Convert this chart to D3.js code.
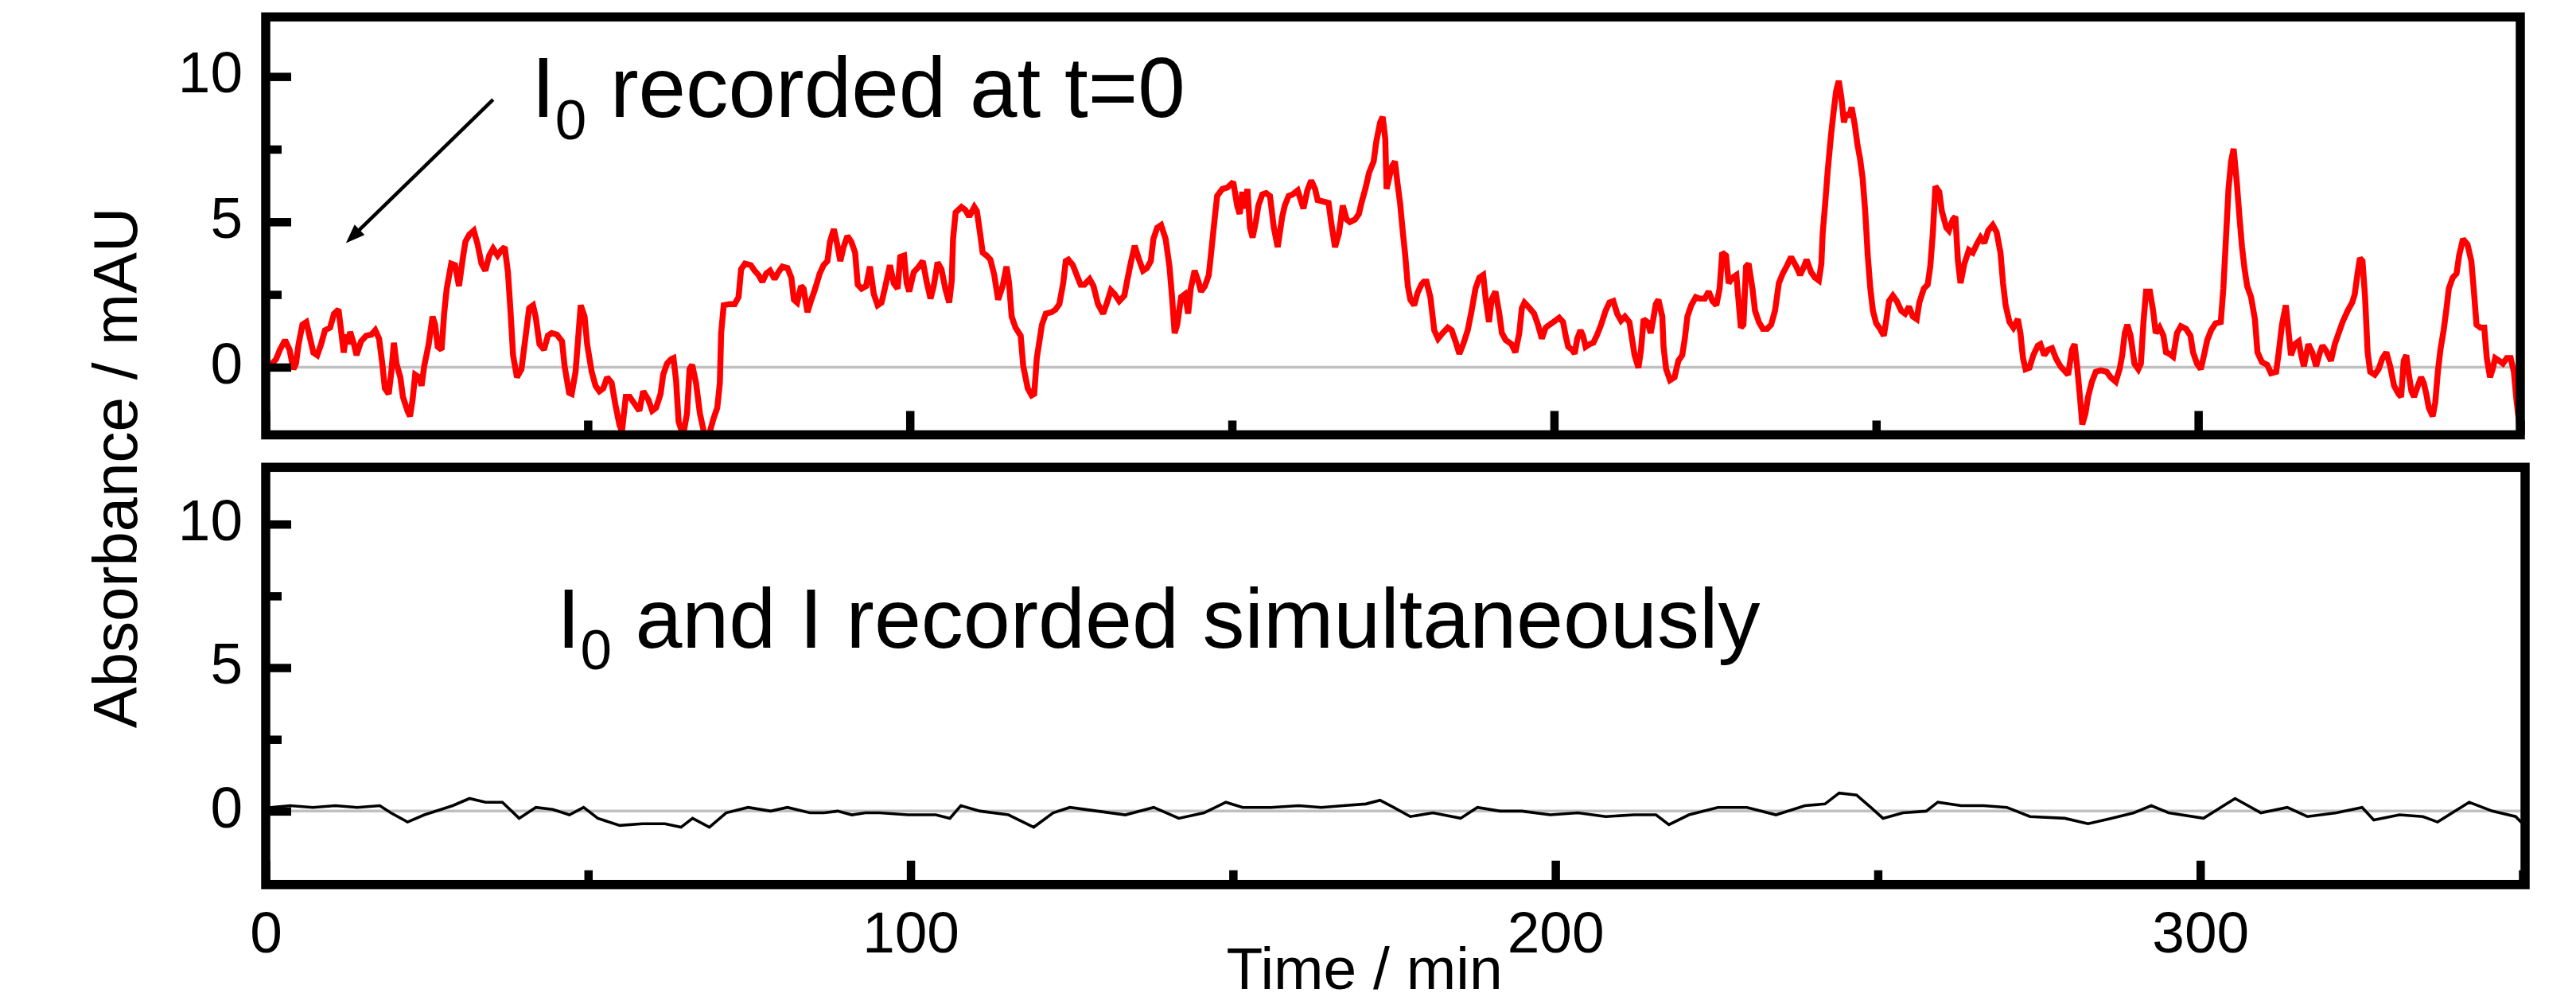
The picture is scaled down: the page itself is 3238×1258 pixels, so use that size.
<!DOCTYPE html>
<html><head><meta charset="utf-8">
<script src="https://cdn.jsdelivr.net/npm/d3@7"></script>
<style>html,body{margin:0;padding:0;background:#fff;} svg{display:block;} text{white-space:pre;}</style>
</head><body>
<svg id="chart" width="3238" height="1258"></svg>
<script>
// ---- data ----
const topTime = [0,0.8,1.6,2.2,3.0,3.7,4.3,4.7,5.1,5.7,6.3,6.9,7.4,8.0,8.6,9.2,10.0,10.6,11.3,11.7,12.1,12.5,12.9,13.1,13.7,14.1,14.8,15.6,16.4,17.0,17.6,18.1,18.5,19.1,19.5,19.9,20.3,20.9,21.3,22.0,22.4,22.8,23.2,23.8,24.2,24.6,25.3,25.9,26.3,26.7,27.3,27.7,28.1,28.8,29.4,30.0,30.6,31.0,31.6,32.3,32.9,33.5,34.1,34.7,35.3,36.0,36.6,37.1,37.6,38.0,38.4,39.0,39.7,40.3,40.9,41.5,41.9,42.5,43.2,43.8,44.4,45.2,46.0,46.4,47.1,47.5,48.1,48.5,48.9,49.5,49.9,50.6,51.2,51.8,52.4,53.0,53.7,54.3,54.9,55.3,55.9,56.5,57.1,58.0,58.6,
59.4,60.0,60.6,61.3,61.7,62.3,62.9,63.3,63.7,64.1,64.8,65.4,65.8,66.2,66.8,67.4,68.1,68.9,69.5,70.1,70.5,70.7,71.1,72.0,72.8,73.4,73.8,74.4,75.3,75.9,76.5,77.1,77.7,78.3,79.0,79.6,80.2,81.0,81.6,82.0,82.5,83.1,83.5,84.1,84.7,85.3,86.0,86.6,87.2,87.6,88.2,88.8,89.2,89.7,90.3,90.9,91.5,91.9,92.5,93.2,93.8,94.4,95.0,95.6,96.2,96.9,97.5,98.1,98.5,99.1,99.5,99.9,100.6,101.2,102.0,102.6,103.2,103.7,104.3,104.9,105.5,106.1,106.5,106.7,107.1,108.0,108.6,109.2,110.0,110.4,110.9,111.3,111.9,112.5,113.1,113.7,114.4,115.0,115.4,115.8,116.4,117.2,117.6,118.3,118.9,119.3,119.7,
120.5,121.1,122.0,122.6,123.2,123.8,124.2,124.6,125.3,125.9,126.5,127.1,127.9,128.5,129.2,130.0,130.6,131.2,131.8,132.5,133.3,133.7,134.3,134.9,135.5,136.2,136.8,137.4,137.8,138.4,139.0,139.7,140.3,140.7,141.1,141.5,142.1,142.7,143.2,143.6,144.2,144.8,145.2,145.8,146.4,146.9,147.3,147.7,148.5,149.3,150.2,150.8,151.2,151.6,152.0,152.4,152.8,153.2,153.7,154.1,154.7,155.3,155.9,156.5,157.1,157.8,158.2,158.8,159.4,160.2,161.1,161.7,162.3,162.9,163.3,164.1,165.0,165.4,166.0,166.6,167.2,167.8,168.3,169.1,169.7,170.1,170.7,171.3,172.0,172.4,173.0,173.4,173.8,174.0,174.4,174.8,175.3,175.7,176.1,176.5,176.9,177.3,177.7,178.3,178.8,179.4,179.8,
180.2,180.8,181.4,182.0,182.7,183.5,184.1,184.7,185.3,185.9,186.6,187.2,187.8,188.4,189.0,189.4,189.9,190.3,190.9,191.5,191.9,192.5,193.4,194.0,194.6,195.0,195.4,196.2,196.9,197.5,198.1,198.7,199.3,199.9,200.8,201.4,201.8,202.2,202.8,203.2,203.6,204.1,204.5,204.9,205.5,206.1,206.7,207.3,208.0,208.6,209.2,209.8,210.4,211.0,211.7,212.1,212.5,213.1,213.5,213.9,214.5,215.0,215.4,215.8,216.2,216.8,217.0,217.4,218.0,218.7,219.3,219.9,220.3,220.7,221.3,222.0,222.6,223.4,224.0,224.6,225.2,225.7,226.1,226.7,227.1,227.7,228.3,229.0,229.4,229.8,230.2,230.8,231.2,231.8,232.4,233.1,233.7,234.3,234.9,235.5,236.2,236.8,
237.6,238.2,238.8,239.2,239.9,240.5,241.1,241.5,241.7,242.1,242.5,243.0,243.4,243.8,244.2,244.6,245.0,245.4,245.8,246.2,246.7,247.1,247.5,247.9,248.3,248.7,249.1,249.5,250.0,250.6,251.2,251.6,252.0,252.6,253.2,253.9,254.5,255.1,255.7,256.3,256.7,257.4,258.0,258.4,258.8,259.2,259.8,260.2,260.9,261.3,261.9,262.3,262.7,263.1,263.7,264.4,265.0,265.6,266.2,266.8,267.4,268.1,268.7,269.3,269.7,270.1,270.7,271.3,272.0,272.4,272.8,273.2,273.8,274.4,275.1,275.5,276.1,276.7,277.3,277.9,278.6,279.2,279.8,280.4,280.8,281.2,281.6,282.0,282.5,282.9,283.5,284.1,284.9,285.8,286.4,287.2,287.8,288.2,288.6,289.0,289.5,290.1,290.7,291.1,291.5,291.9,292.5,293.0,293.4,294.0,294.6,295.0,
295.5,296.1,296.7,297.3,298.1,298.8,299.2,299.8,300.4,301.0,301.4,302.0,302.7,303.5,303.9,304.3,304.7,305.1,305.5,306.0,306.4,306.8,307.2,307.6,308.2,308.8,309.2,309.9,310.7,311.3,312.1,312.5,313.0,313.6,314.0,314.4,315.0,315.6,316.0,316.4,317.1,317.7,318.3,318.9,319.3,319.9,320.6,321.2,321.8,322.4,323.2,323.9,324.3,324.7,325.1,325.5,325.9,326.3,326.7,327.4,328.0,328.6,329.2,329.8,330.4,331.1,331.5,331.9,332.3,332.7,333.1,333.5,334.1,334.6,335.0,335.4,335.8,336.4,336.8,337.2,337.6,338.1,338.5,338.9,339.5,340.1,340.5,341.1,341.8,342.4,342.8,343.2,343.8,344.4,344.8,345.3,345.7,346.1,346.7,347.3,347.9,348.5,349.0,349.4,349.8,350.0];
const topAbs = [0.1,0.08,0.27,0.6,0.93,0.6,-0.07,0.12,0.79,1.46,1.55,0.98,0.5,0.41,0.79,1.27,1.36,1.84,1.98,1.27,0.5,1.12,0.79,1.22,0.79,0.41,0.89,1.08,1.12,1.27,0.98,0.12,-0.73,-0.92,-0.16,0.84,0.12,-0.35,-1.02,-1.5,-1.69,-1.12,-0.26,-0.35,-0.64,0.03,0.79,1.74,1.46,0.7,0.6,1.84,2.7,3.56,3.51,2.79,3.75,4.32,4.56,4.7,4.22,3.56,3.32,3.84,4.08,3.84,4.03,4.13,3.27,1.94,0.41,-0.35,-0.07,0.98,2.03,2.13,1.74,0.79,0.6,1.08,1.17,1.12,0.89,0.03,-0.88,-0.92,-0.16,0.98,2.13,1.74,0.79,-0.16,-0.64,-0.83,-0.73,-0.35,-0.54,-1.31,-1.97,-2.21,-1.02,-1.02,-1.21,-1.5,-0.83,
-1.12,-1.5,-1.4,-0.92,-0.26,0.12,0.27,0.31,-0.45,-1.88,-2.35,-1.59,-0.07,0.08,-0.54,-1.59,-2.31,-2.26,-1.78,-1.4,-0.54,1.17,2.13,2.17,2.17,2.41,3.37,3.56,3.51,3.32,3.17,2.94,3.22,3.32,3.03,3.27,3.46,3.41,3.08,2.32,2.22,2.79,2.7,1.89,2.32,2.7,3.22,3.51,3.65,4.32,4.75,4.13,3.65,4.13,4.51,4.32,3.94,2.84,2.7,2.79,3.46,2.51,2.13,2.22,2.79,3.51,2.89,2.7,3.79,3.84,2.89,2.6,3.27,3.41,3.65,2.94,2.36,2.79,3.6,3.37,2.7,2.22,2.98,4.41,5.32,5.51,5.41,5.18,5.51,5.37,4.6,3.94,3.84,3.7,3.17,2.32,2.79,3.46,2.89,1.74,1.36,1.08,0.03,-0.73,-0.97,-0.92,0.31,
1.46,1.84,1.89,1.98,2.17,2.89,3.65,3.7,3.51,3.17,2.84,2.84,3.03,2.79,2.17,1.84,2.22,2.65,2.51,2.27,2.46,2.94,3.6,4.18,3.75,3.32,3.41,3.65,4.41,4.8,4.89,4.41,3.46,2.41,1.17,1.46,2.41,2.51,1.84,2.7,3.32,2.94,2.6,2.79,3.17,4.22,5.08,5.89,6.13,6.18,6.37,5.56,5.27,6.03,5.46,6.13,4.8,4.46,4.99,5.56,5.94,5.99,5.89,4.8,4.13,5.18,5.56,5.89,5.94,6.08,5.46,6.08,6.42,6.13,5.75,5.7,5.65,4.99,4.13,4.6,5.56,5.08,4.99,5.08,5.27,5.65,6.13,6.7,7.08,7.75,8.42,8.61,7.85,6.13,6.51,6.89,7.08,6.32,5.65,4.7,3.84,2.79,2.32,2.13,2.55,2.84,2.94,
2.94,2.41,1.27,0.98,1.17,1.36,1.27,0.89,0.46,0.79,1.27,1.94,2.7,3.08,3.17,2.32,1.55,2.32,2.6,1.84,1.17,0.93,0.79,0.51,1.17,2.03,2.22,2.03,1.84,1.46,0.98,1.36,1.46,1.55,1.7,1.55,1.08,0.7,0.6,0.46,0.98,1.27,1.08,0.7,0.79,0.84,1.12,1.46,1.94,2.22,2.27,1.84,1.6,1.74,1.55,0.98,0.41,-0.02,0.6,1.65,1.55,1.17,1.65,2.17,2.32,1.74,0.7,-0.07,-0.45,-0.35,0.22,0.41,0.98,1.74,2.13,2.41,2.36,2.36,2.6,2.27,2.13,2.7,3.94,3.84,2.89,3.08,3.17,1.36,1.46,3.46,3.56,2.7,1.94,1.55,1.32,1.32,1.46,1.94,2.89,3.22,3.51,3.79,
3.46,3.17,3.46,3.7,3.27,3.08,2.98,3.56,4.6,5.65,6.8,7.99,8.8,9.51,9.85,9.28,8.42,8.75,8.61,8.94,8.32,7.65,7.18,6.51,5.37,3.84,2.7,1.94,1.51,1.32,1.08,1.65,2.27,2.46,2.27,1.94,1.84,2.08,1.74,1.65,2.22,2.7,2.84,3.46,4.6,6.22,6.03,5.37,4.8,4.7,5.08,5.18,3.65,2.89,3.56,4.03,3.94,4.22,4.46,4.27,4.7,4.89,4.65,3.94,2.89,2.13,1.55,1.36,1.65,1.17,0.31,-0.07,-0.02,0.41,0.74,0.79,0.41,0.6,0.65,0.31,0.03,-0.11,-0.26,0.6,0.79,0.03,-0.92,-1.97,-1.59,-1.02,-0.5,-0.16,-0.11,-0.16,-0.35,-0.5,-0.07,0.41,1.17,1.46,1.08,0.12,-0.07,0.12,1.55,2.6,2.6,1.94,1.17,1.36,1.08,0.51,
0.46,0.36,1.17,1.41,1.32,1.08,0.51,0.12,-0.07,0.51,0.93,1.27,1.51,1.55,2.7,4.41,6.13,7.08,7.51,6.32,5.18,4.13,3.37,2.79,2.41,1.65,0.51,0.17,0.08,-0.21,-0.16,0.51,1.46,2.13,1.27,0.41,0.79,0.89,0.41,0.03,0.79,0.51,0.03,0.51,0.74,0.55,0.22,0.79,1.17,1.55,1.94,2.22,2.51,3.17,3.75,3.65,2.41,0.51,-0.16,-0.26,-0.07,0.31,0.51,0.03,-0.64,-0.92,-1.02,0.22,0.41,-0.26,-0.83,-1.02,-0.64,-0.35,-0.54,-0.92,-1.4,-1.69,-1.21,-0.16,0.6,1.27,1.94,2.7,3.08,3.22,3.84,4.41,4.22,3.65,2.6,1.46,1.36,1.36,0.31,-0.35,-0.07,0.31,0.22,0.12,0.31,0.31,-0.16,-1.12,-1.88,-2.4];

const bottomTime = [0,0.8,3.8,7.3,10.8,14.2,17.7,19.4,22.0,24.6,27.2,29.0,31.6,34.1,36.7,39.3,41.9,44.5,47.1,49.3,51.5,54.9,58.4,61.9,64.4,66.2,68.8,71.4,74.8,78.3,80.9,84.4,86.6,88.7,90.9,93.0,95.2,99.6,103.9,106.1,107.8,110.8,115.2,119.1,122.1,124.7,129.0,133.3,137.7,141.6,145.5,148.9,151.5,155.9,160.2,163.7,167.1,170.6,172.8,174.9,177.5,181.0,185.3,187.9,191.4,194.8,199.2,203.5,207.8,212.2,215.6,217.6,220.7,225.2,229.7,234.2,238.7,241.8,244.0,246.7,248.9,250.8,253.9,257.5,259.3,262.9,266.4,270.0,273.6,279.0,282.6,286.2,289.7,292.4,295.1,300.5,305.4,309.4,313.5,316.6,321.1,325.1,326.9,330.9,334.5,336.8,341.7,345.3,348.9,350.0];
const bottomAbs = [0.1,0.13,0.19,0.13,0.19,0.13,0.19,-0.06,-0.38,-0.13,0.06,0.19,0.44,0.31,0.31,-0.25,0.13,0.06,-0.13,0.13,-0.25,-0.5,-0.44,-0.44,-0.56,-0.25,-0.56,-0.06,0.13,0,0.13,-0.06,-0.06,0,-0.13,-0.06,-0.06,-0.13,-0.13,-0.25,0.19,0,-0.13,-0.56,-0.06,0.13,0,-0.13,0.13,-0.25,-0.06,0.31,0.13,0.13,0.19,0.13,0.19,0.25,0.38,0.13,-0.19,-0.06,-0.25,0.13,0,0,-0.13,-0.06,-0.19,-0.13,-0.13,-0.47,-0.13,0.13,0.13,-0.13,0.19,0.25,0.63,0.56,0.13,-0.25,-0.06,0,0.31,0.19,0.19,0.13,-0.19,-0.25,-0.44,-0.25,-0.06,0.19,-0.06,-0.25,0.44,-0.06,0.13,-0.19,-0.06,0.13,-0.31,-0.13,-0.19,-0.38,0.31,0,-0.19,-0.44];

const xMajorTicks = [0,100,200,300];
const xMinorTicks = [50,150,250,350];
const yMajorTicks = [0,5,10];
const yMinorTicks = [2.5,7.5];
const xLabel = "Time / min";
const yLabel = "Absorbance / mAU";

// ---- layout ----
const FONT = "'Liberation Sans', Arial, Helvetica, sans-serif";
const svg = d3.select('#chart');
svg.append('rect').attr('width',3238).attr('height',1258).attr('fill','#fff');

const xTop = d3.scaleLinear().domain([0,350]).range([334,3168]);
const xBot = d3.scaleLinear().domain([0,350]).range([334,3171]);
const yTop = d3.scaleLinear().domain([-2.33,12.05]).range([546.5,21.3]);
const yBot = d3.scaleLinear().domain([-2.56,11.98]).range([1111.7,587.3]);

const panels = [
  {id:'top', x:xTop, y:yTop, t:topTime, v:topAbs, color:'#ff0000', lw:7.5, right:3168, showX:false},
  {id:'bot', x:xBot, y:yBot, t:bottomTime, v:bottomAbs, color:'#000000', lw:3.6, right:3174, showX:true}
];

const defs = svg.append('defs');

panels.forEach(p => {
  const x0 = p.x(0), y0 = p.y.range()[1], y1 = p.y.range()[0];
  defs.append('clipPath').attr('id','clip-'+p.id)
    .append('rect').attr('x',x0).attr('y',y0).attr('width',p.right-x0).attr('height',y1-y0);
  const g = svg.append('g');
  const plot = g.append('g').attr('clip-path',`url(#clip-${p.id})`);
  // zero line
  plot.append('line').attr('x1',x0).attr('x2',p.right).attr('y1',p.y(0)).attr('y2',p.y(0))
    .attr('stroke','#c0c0c0').attr('stroke-width',3.5);
  const data = p.t.map((t,i)=>[t,p.v[i]]);
  plot.append('path').datum(data)
    .attr('fill','none').attr('stroke',p.color).attr('stroke-width',p.lw)
    .attr('stroke-linejoin','miter').attr('stroke-miterlimit',2)
    .attr('d', d3.line().x(d=>p.x(d[0])).y(d=>p.y(d[1])));

  // y ticks (inward), labels
  const yMaj = g.append('g').attr('transform',`translate(${x0},0)`)
    .call(d3.axisLeft(p.y).tickValues(yMajorTicks).tickSizeInner(-32).tickSizeOuter(0).tickPadding(29).tickFormat(d3.format('d')));
  const yMin = g.append('g').attr('transform',`translate(${x0},0)`)
    .call(d3.axisLeft(p.y).tickValues(yMinorTicks).tickSizeInner(-20).tickSizeOuter(0).tickFormat(''));
  // x ticks (inward)
  const xMaj = g.append('g').attr('transform',`translate(0,${y1})`)
    .call(d3.axisBottom(p.x).tickValues(xMajorTicks).tickSizeInner(-30).tickSizeOuter(0).tickPadding(33).tickFormat(p.showX ? d3.format('d') : ''));
  const xMin = g.append('g').attr('transform',`translate(0,${y1})`)
    .call(d3.axisBottom(p.x).tickValues(xMinorTicks).tickSizeInner(-18).tickSizeOuter(0).tickFormat(''));
  [yMaj,yMin,xMaj,xMin].forEach(a=>{
    a.select('.domain').remove();
    a.attr('font-family',FONT).attr('font-size',73);
    a.selectAll('line').attr('stroke','#000').attr('stroke-width',10.5);
    a.selectAll('text').attr('fill','#000');
  });
  yMaj.selectAll('text').attr('dy','0.27em');
  // frame
  g.append('rect').attr('x',x0).attr('y',y0).attr('width',p.right-x0).attr('height',y1-y0)
    .attr('fill','none').attr('stroke','#000').attr('stroke-width',11.5);
});

// annotations
function subLabel(xp, yp, main1, sub, rest, fs, sfs, sdy){
  const t = svg.append('text').attr('x',xp).attr('y',yp).attr('font-family',FONT).attr('font-size',fs).attr('fill','#000');
  t.append('tspan').text(main1);
  t.append('tspan').attr('font-size',sfs).attr('dy',sdy).text(sub);
  t.append('tspan').attr('font-size',fs).attr('dy',-sdy).text(rest);
}
subLabel(668,147,'I','0',' recorded at t=0',107,71,28);
subLabel(700,814,'I','0',' and I recorded simultaneously',106,71,27);

// arrow (in data coordinates of top panel)
const arrowFrom = [35.3, 9.21], arrowTo = [12.45, 4.27];
const S = [xTop(arrowFrom[0]), yTop(arrowFrom[1])], T = [xTop(arrowTo[0]), yTop(arrowTo[1])];
const dx = T[0]-S[0], dy = T[1]-S[1], L = Math.hypot(dx,dy), ux = dx/L, uy = dy/L;
const hl = 24, hw = 9;
const B = [T[0]-hl*ux, T[1]-hl*uy];
svg.append('line').attr('x1',S[0]).attr('y1',S[1]).attr('x2',B[0]+4*ux).attr('y2',B[1]+4*uy)
  .attr('stroke','#000').attr('stroke-width',4.5);
svg.append('path').attr('fill','#000')
  .attr('d',`M${T[0]},${T[1]}L${B[0]-hw*uy},${B[1]+hw*ux}L${B[0]+hw*uy},${B[1]-hw*ux}Z`);

// axis titles
svg.append('text').attr('x',1715).attr('y',1243).attr('text-anchor','middle')
  .attr('font-family',FONT).attr('font-size',75).attr('fill','#000').text(xLabel);
svg.append('text').attr('transform','translate(172,588) rotate(-90)').attr('text-anchor','middle')
  .attr('font-family',FONT).attr('font-size',78).attr('fill','#000').text(yLabel);
</script>
</body></html>
